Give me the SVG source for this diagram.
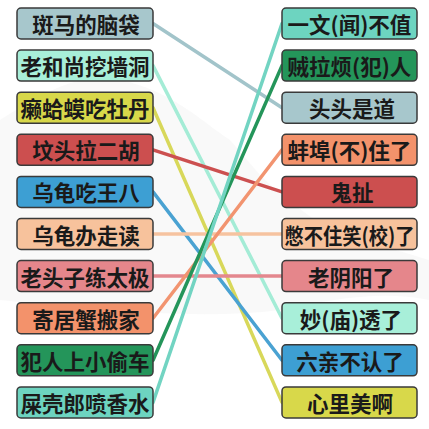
<svg xmlns="http://www.w3.org/2000/svg" width="429" height="429" viewBox="0 0 429 429">
<style>
.box{stroke:#3a3a3a;stroke-width:1.5}
.t{font-family:"Noto Sans CJK SC","Noto Sans CJK TC",sans-serif;font-size:21.5px;fill:#1a1a1a;text-anchor:middle;dominant-baseline:central;font-weight:bold}
.c{fill:none;stroke-width:3.5;stroke-linecap:round}
</style>
<rect width="429" height="429" fill="#ffffff"/>
<path d="M0,120 C40,95 80,70 120,80 C170,90 200,120 230,140 L260,175 C280,195 300,210 330,230 L429,260 L429,300 C380,290 330,300 280,310 C200,320 100,310 0,300 Z" fill="#f6f6f6" opacity="0.7"/>
<g id="connectors">
<line class="c" x1="153" y1="23.5" x2="282" y2="107.7" stroke="#a2c4ca"/>
<line class="c" x1="153" y1="65.6" x2="282" y2="318.2" stroke="#a4ecd6"/>
<line class="c" x1="153" y1="107.7" x2="282" y2="402.4" stroke="#d8d85a"/>
<line class="c" x1="153" y1="149.8" x2="282" y2="191.9" stroke="#cc5050"/>
<line class="c" x1="153" y1="191.9" x2="282" y2="360.3" stroke="#4aa2d2"/>
<line class="c" x1="153" y1="234" x2="282" y2="234" stroke="#f6c3a0"/>
<line class="c" x1="153" y1="276.1" x2="282" y2="276.1" stroke="#e4888e"/>
<line class="c" x1="153" y1="318.2" x2="282" y2="149.8" stroke="#f29470"/>
<line class="c" x1="153" y1="360.3" x2="282" y2="65.6" stroke="#24955a"/>
<line class="c" x1="153" y1="402.4" x2="282" y2="23.5" stroke="#72d4c2"/>
</g>
<g id="L1"><rect class="box" x="17" y="8" width="136" height="31" rx="4" fill="#a7c7cc"/><text class="t" x="86" y="23.5">斑马的脑袋</text></g>
<g id="L2"><rect class="box" x="17" y="50.1" width="136" height="31" rx="4" fill="#a8efd9"/><text class="t" x="85" y="65.6">老和尚挖墙洞</text></g>
<g id="L3"><rect class="box" x="17" y="92.2" width="136" height="31" rx="4" fill="#d8d84a"/><text class="t" x="85" y="107.7">癞蛤蟆吃牡丹</text></g>
<g id="L4"><rect class="box" x="17" y="134.3" width="136" height="31" rx="4" fill="#cc4f4f"/><text class="t" x="86" y="149.8">坟头拉二胡</text></g>
<g id="L5"><rect class="box" x="17" y="176.4" width="136" height="31" rx="4" fill="#3d9fd3"/><text class="t" x="86" y="191.9">乌龟吃王八</text></g>
<g id="L6"><rect class="box" x="17" y="218.5" width="136" height="31" rx="4" fill="#f7c29c"/><text class="t" x="86" y="234">乌龟办走读</text></g>
<g id="L7"><rect class="box" x="17" y="260.6" width="136" height="31" rx="4" fill="#e5868b"/><text class="t" x="85" y="276.1">老头子练太极</text></g>
<g id="L8"><rect class="box" x="17" y="302.7" width="136" height="31" rx="4" fill="#f3926b"/><text class="t" x="86" y="318.2">寄居蟹搬家</text></g>
<g id="L9"><rect class="box" x="17" y="344.8" width="136" height="31" rx="4" fill="#24955a"/><text class="t" x="85" y="360.3">犯人上小偷车</text></g>
<g id="L10"><rect class="box" x="17" y="386.9" width="136" height="31" rx="4" fill="#6dd4c0"/><text class="t" x="85" y="402.4">屎壳郎喷香水</text></g>
<g id="R1"><rect class="box" x="282" y="8" width="135" height="31" rx="4" fill="#6dd4c0"/><text class="t" x="349.5" y="23.5">一文(闻)不值</text></g>
<g id="R2"><rect class="box" x="282" y="50.1" width="135" height="31" rx="4" fill="#24955a"/><text class="t" x="349.5" y="65.6">贼拉烦(犯)人</text></g>
<g id="R3"><rect class="box" x="282" y="92.2" width="135" height="31" rx="4" fill="#a7c7cc"/><text class="t" x="352" y="107.7">头头是道</text></g>
<g id="R4"><rect class="box" x="282" y="134.3" width="135" height="31" rx="4" fill="#f3926b"/><text class="t" x="349.5" y="149.8">蚌埠(不)住了</text></g>
<g id="R5"><rect class="box" x="282" y="176.4" width="135" height="31" rx="4" fill="#cc4f4f"/><text class="t" x="352" y="191.9">鬼扯</text></g>
<g id="R6"><rect class="box" x="282" y="218.5" width="135" height="31" rx="4" fill="#f7c29c"/><text class="t" x="349.5" y="234" textLength="130" lengthAdjust="spacingAndGlyphs">憋不住笑(校)了</text></g>
<g id="R7"><rect class="box" x="282" y="260.6" width="135" height="31" rx="4" fill="#e5868b"/><text class="t" x="351" y="276.1">老阴阳了</text></g>
<g id="R8"><rect class="box" x="282" y="302.7" width="135" height="31" rx="4" fill="#a8efd9"/><text class="t" x="351" y="318.2">妙(庙)透了</text></g>
<g id="R9"><rect class="box" x="282" y="344.8" width="135" height="31" rx="4" fill="#3d9fd3"/><text class="t" x="350" y="360.3">六亲不认了</text></g>
<g id="R10"><rect class="box" x="282" y="386.9" width="135" height="31" rx="4" fill="#d8d84a"/><text class="t" x="350" y="402.4">心里美啊</text></g>
</svg>
